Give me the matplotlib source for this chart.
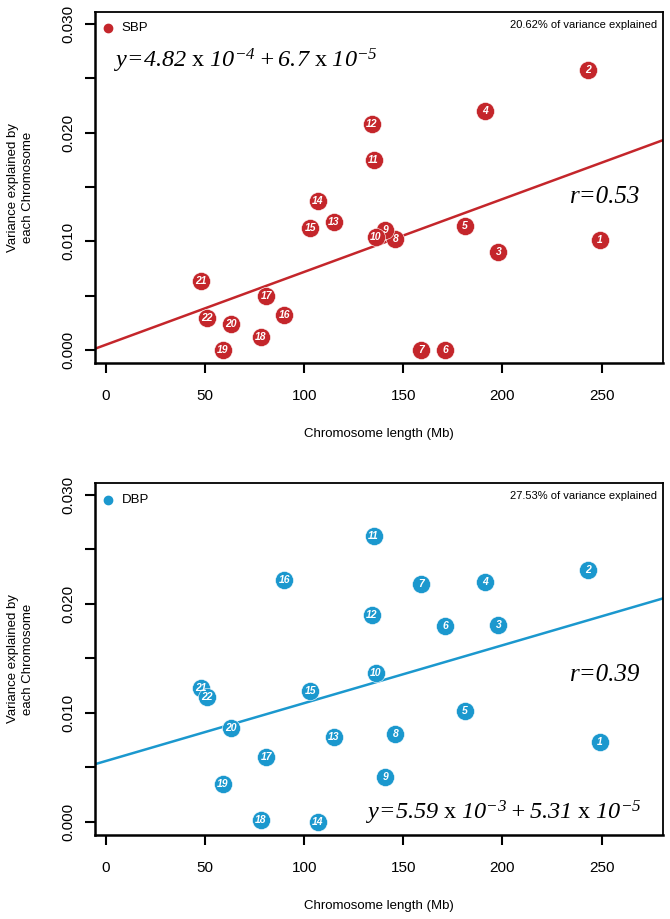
import matplotlib
matplotlib.use("Agg")
import matplotlib.pyplot as plt

plt.rcParams["font.family"] = "Liberation Sans"
plt.rcParams["mathtext.fontset"] = "custom"
plt.rcParams["mathtext.rm"] = "Liberation Serif:italic"
plt.rcParams["mathtext.it"] = "Liberation Serif:italic"
plt.rcParams["mathtext.sf"] = "Liberation Serif"

# chromosome number and length (Mb)
chrom = [1, 2, 3, 4, 5, 6, 7, 8, 9, 10, 11, 12, 13, 14, 15, 16, 17, 18, 19, 20, 21, 22]
length = [249, 243, 198, 191, 181, 171, 159, 146, 141, 136, 135, 134,
          115, 107, 103, 90, 81, 78, 59, 63, 48, 51]

# variance explained by each chromosome
sbp = [0.0101, 0.0258, 0.0090, 0.0220, 0.0114, 0.0000, 0.0000, 0.0102, 0.0110, 0.0104, 0.0175,
       0.0208, 0.0118, 0.0137, 0.0112, 0.0032, 0.0050, 0.0012, 0.0000, 0.0024, 0.0063, 0.0029]
dbp = [0.0073, 0.0231, 0.0181, 0.0220, 0.0102, 0.0180, 0.0218, 0.0081, 0.0041, 0.0137, 0.0262,
       0.0190, 0.0078, 0.0000, 0.0120, 0.0222, 0.0060, 0.0002, 0.0035, 0.0086, 0.0123, 0.0115]

# regression lines (intercept, slope)
sbp_fit = (4.82e-4, 6.7e-5)
dbp_fit = (5.59e-3, 5.31e-5)

red = "#C4262B"
blue = "#1B98CE"

fig = plt.figure(figsize=(6.7, 9.19), dpi=100)
W, H = 670, 919


def axes_px(left, top, right, bottom):
    return fig.add_axes([left / W, 1 - bottom / H, (right - left) / W, (bottom - top) / H])


def panel(ax, y, fit, col, name, pct, eq, eq_pos, r_txt, r_pos):
    xlim = (-5.5, 281)
    ax.set_xlim(*xlim)
    ax.set_ylim(-0.0012, 0.0311)
    a, b = fit
    ax.plot(xlim, [a + b * xlim[0], a + b * xlim[1]], color=col, lw=1.8, zorder=2)
    ax.scatter(length, y, s=13 ** 2, color=col, edgecolors="white", linewidths=0.4, zorder=3)
    for c, xx, yy in zip(chrom, length, y):
        ax.text(xx, yy, str(c), color="white", fontsize=7.5, fontweight="bold", fontstyle="italic",
                ha="center", va="center", zorder=4)

    ax.set_xticks([0, 50, 100, 150, 200, 250])
    ax.set_yticks([0.000, 0.005, 0.010, 0.015, 0.020, 0.025, 0.030])
    ax.set_yticklabels(["0.000", "", "0.010", "", "0.020", "", "0.030"], rotation=90, va="center")
    ax.tick_params(axis="both", direction="out", length=7, width=1.5, labelsize=11)
    ax.tick_params(axis="x", pad=12)
    ax.tick_params(axis="y", pad=7)
    for s in ["left", "bottom"]:
        ax.spines[s].set_linewidth(1.8)
    for s in ["top", "right"]:
        ax.spines[s].set_linewidth(1.3)

    ax.set_xlabel("Chromosome length (Mb)", fontsize=9.5, labelpad=18)
    ax.set_ylabel("Variance explained by\neach Chromosome", fontsize=9.5, labelpad=20,
                  linespacing=1.3)

    # legend dot and variance text
    ax.plot([0.023], [0.953], "o", color=col, ms=6, transform=ax.transAxes, clip_on=False)
    ax.text(0.047, 0.953, name, fontsize=9.5, va="center", transform=ax.transAxes)
    ax.text(0.99, 0.962, pct, fontsize=8, ha="right", va="center", transform=ax.transAxes)

    ax.text(eq_pos[0], eq_pos[1], eq, fontsize=17.5,
            ha=eq_pos[2], va="center", transform=ax.transAxes)
    ax.text(r_pos[0], r_pos[1], r_txt, fontsize=18, family="Liberation Serif", style="italic",
            ha="right", va="center", transform=ax.transAxes)


ax1 = axes_px(95, 12, 663, 363)
panel(ax1, sbp, sbp_fit, red, "SBP", "20.62% of variance explained",
      r"$y\!=\!4.82\ \mathsf{x}\ 10^{-4} + 6.7\ \mathsf{x}\ 10^{-5}$",
      (0.032, 0.86, "left"), "r=0.53", (0.961, 0.473))

ax2 = axes_px(95, 483, 663, 835)
panel(ax2, dbp, dbp_fit, blue, "DBP", "27.53% of variance explained",
      r"$y\!=\!5.59\ \mathsf{x}\ 10^{-3} + 5.31\ \mathsf{x}\ 10^{-5}$",
      (0.963, 0.062, "right"), "r=0.39", (0.961, 0.455))

fig.savefig("out.png", dpi=100)
